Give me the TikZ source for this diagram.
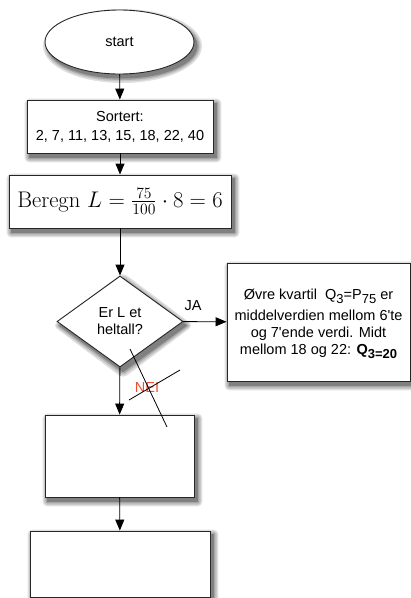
\documentclass[tikz,border=0pt]{standalone}
\usepackage{fontspec}
\setsansfont{Liberation Sans}
\usetikzlibrary{shapes.geometric,arrows.meta,backgrounds}
\definecolor{neired}{RGB}{240,75,45}
\newcommand\lowr[1]{\raisebox{-4pt}{\fontsize{13}{13}\selectfont #1}}
\newcommand\shrect[1]{%
  \foreach \d/\c in {5/12,3.5/22,2/35,0.5/50}
    \fill[black!\c, rounded corners=\d pt] ([shift={(3-\d,4-\d)}]#1.north west) rectangle ([shift={(3+\d,4+\d)}]#1.south east);}
\begin{document}
\begin{tikzpicture}[x=1pt,y=-1pt,
  every node/.style={font=\sffamily\fontsize{14.5}{17}\selectfont},
  boxx/.style={draw=black!85, fill=white, rectangle, inner sep=0pt, line width=0.9pt, align=center},
  arr/.style={-{Triangle[length=11pt,width=9pt]}, line width=0.9pt}]
\useasboundingbox (0,0) rectangle (411,598);

\node[boxx, ellipse, minimum width=149pt, minimum height=64pt] (start) at (119.5,42) {start};
\node[boxx, minimum width=186pt, minimum height=53pt, font=\sffamily\fontsize{14.5}{19}\selectfont] (sort) at (120,126.5) {Sortert:\\2, 7, 11, 13, 15, 18, 22, 40};
\node[boxx, minimum width=222pt, minimum height=53pt, font=\rmfamily\fontsize{20.74}{25}\selectfont] (calc) at (120,201.5) {\scalebox{1.09}{Beregn $L=\frac{75}{100}\cdot 8=6$}};
\node[boxx, diamond, aspect=1.385, minimum width=126pt, minimum height=91pt] (dec) at (120,321.5) {Er L et\\heltall?};
\node[boxx, minimum width=183pt, minimum height=118pt] (res) at (318.5,322) {\rule{0pt}{14pt}Øvre kvartil\ \ Q\lowr{3}=P\lowr{75} er\\[4pt]middelverdien mellom 6\textquotesingle te\\og 7\textquotesingle ende verdi. Midt\\mellom 18 og 22: \textbf{Q\lowr{\textbf{3=20}}}};
\node[boxx, minimum width=149pt, minimum height=82pt] (b3) at (119.5,456) {};
\node[boxx, minimum width=180pt, minimum height=66pt] (b4) at (120,564) {};

\begin{scope}[on background layer]
  \shrect{sort}
  \shrect{calc}
  \shrect{res}
  \shrect{b3}
  \shrect{b4}
  \foreach \d/\c in {5/12,3.5/22,2/35,0.5/50}
    \fill[black!\c] ([shift={(3,4)}]start.center) ellipse [x radius=74.5+\d, y radius=32+\d];
  \foreach \d/\c in {5/12,3.5/22,2/35,0.5/50}
    \fill[black!\c, rounded corners=\d pt] ([shift={(3,4-1.4*\d)}]dec.north) -- ([shift={(3+1.4*\d,4)}]dec.east) -- ([shift={(3,4+1.4*\d)}]dec.south) -- ([shift={(3-1.4*\d,4)}]dec.west) -- cycle;
\end{scope}

\draw[arr] (start) -- (sort);
\draw[arr] (sort) -- (calc);
\draw[arr] (calc) -- (dec);
\draw[arr] (dec) -- node[pos=0.23, above=7pt] (ja) {JA} (res);
\draw[arr] (dec) -- (b3);
\draw[arr] (b3) -- (b4);

\node[text=neired] (nei) at (147,388) {NEI};
\draw[line width=0.8pt] (130,349) -- (167,427);
\draw[line width=0.8pt] (129,400) -- (180,370);
\end{tikzpicture}
\end{document}
